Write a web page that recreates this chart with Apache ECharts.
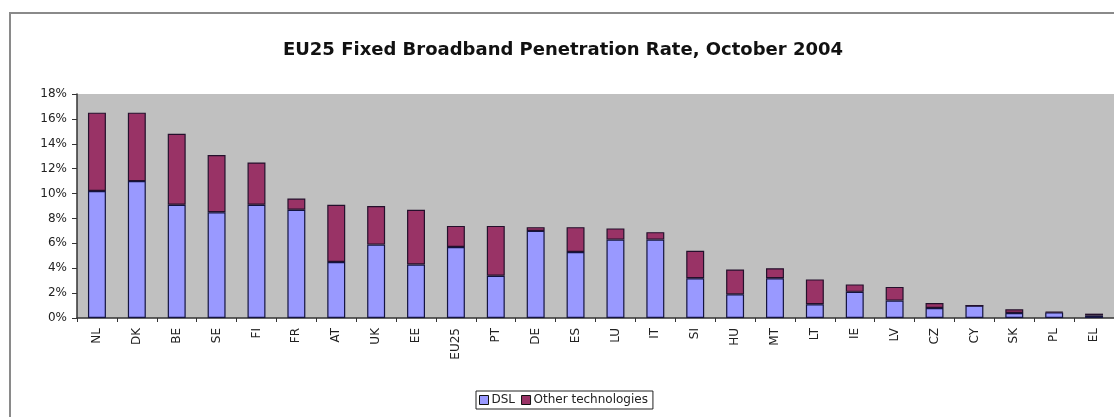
<!DOCTYPE html>
<html>
<head>
<meta charset="utf-8">
<script src="https://cdn.jsdelivr.net/npm/echarts@6/dist/echarts.min.js"></script>
<style>
  html, body { margin: 0; padding: 0; background: #fff; }
  #chart { width: 1114px; height: 417px; }
</style>
</head>
<body>
<div id="chart"></div>
<script>
// countries, sorted by total penetration
const countries = ['NL', 'DK', 'BE', 'SE', 'FI', 'FR', 'AT', 'UK', 'EE', 'EU25', 'PT', 'DE', 'ES',
  'LU', 'IT', 'SI', 'HU', 'MT', 'LT', 'IE', 'LV', 'CZ', 'CY', 'SK', 'PL', 'EL'];
// % of population
const dsl = [10.2, 11.0, 9.1, 8.5, 9.1, 8.7, 4.5, 5.9, 4.3, 5.7, 3.4, 7.0, 5.3,
  6.3, 6.3, 3.2, 1.9, 3.2, 1.1, 2.1, 1.4, 0.8, 1.0, 0.4, 0.45, 0.2];
const otherTech = [6.3, 5.5, 5.7, 4.6, 3.4, 0.9, 4.6, 3.1, 4.4, 1.7, 4.0, 0.3, 2.0,
  0.9, 0.6, 2.2, 2.0, 0.8, 2.0, 0.6, 1.1, 0.4, 0.0, 0.3, 0.05, 0.15];

let chart = echarts.init(document.getElementById('chart'));

let option = {
    backgroundColor: '#ffffff',
    animation: false,
    title: {
        text: 'EU25 Fixed Broadband Penetration Rate, October 2004',
        left: 558,
        textAlign: 'center',
        top: 36,
        textStyle: {
            fontFamily: 'DejaVu Sans',
            fontWeight: 'bold',
            fontSize: 18,
            color: '#111'
        }
    },
    graphic: [{
        // outer chart frame (cut off on the right and bottom)
        type: 'rect',
        shape: { x: 10, y: 13, width: 1200, height: 500 },
        style: { fill: null, stroke: '#8a8a8a', lineWidth: 2 },
        silent: true
    }],
    legend: {
        left: 476,
        top: 391,
        itemWidth: 9,
        itemHeight: 9,
        itemGap: 6,
        padding: [3, 5, 3, 3],
        borderColor: '#222',
        borderWidth: 1,
        icon: 'rect',
        itemStyle: { borderColor: '#111', borderWidth: 1 },
        textStyle: { fontFamily: 'DejaVu Sans', fontSize: 12, color: '#222', padding: [0, 0, 0, -2] },
        data: ['DSL', 'Other technologies']
    },
    grid: {
        left: 77,
        top: 94,
        width: 1040,
        height: 224,
        show: true,
        backgroundColor: '#c0c0c0',
        borderColor: '#a8a8a8',
        borderWidth: 0
    },
    xAxis: {
        type: 'category',
        data: countries,
        axisLine: { lineStyle: { color: '#333', width: 1.5 } },
        axisTick: { show: true, length: 4, lineStyle: { color: '#333' } },
        axisLabel: {
            rotate: 90,
            margin: 10,
            fontFamily: 'DejaVu Sans',
            fontSize: 12,
            color: '#222'
        }
    },
    yAxis: {
        type: 'value',
        min: 0,
        max: 18,
        interval: 2,
        axisLine: { show: true, lineStyle: { color: '#333', width: 1.5 } },
        axisTick: { show: true, length: 5, lineStyle: { color: '#333' } },
        splitLine: { show: false },
        axisLabel: {
            formatter: '{value}%',
            margin: 10,
            fontFamily: 'DejaVu Sans',
            fontSize: 12,
            color: '#222'
        }
    },
    series: [{
        name: 'DSL',
        type: 'bar',
        stack: 'total',
        barWidth: '45%',
        data: dsl,
        itemStyle: { color: '#9999ff', borderColor: '#141440', borderWidth: 1.2 }
    }, {
        name: 'Other technologies',
        type: 'bar',
        stack: 'total',
        barWidth: '45%',
        data: otherTech,
        itemStyle: { color: '#993366', borderColor: '#24102c', borderWidth: 1.2 }
    }]
};

chart.setOption(option);
</script>
</body>
</html>
